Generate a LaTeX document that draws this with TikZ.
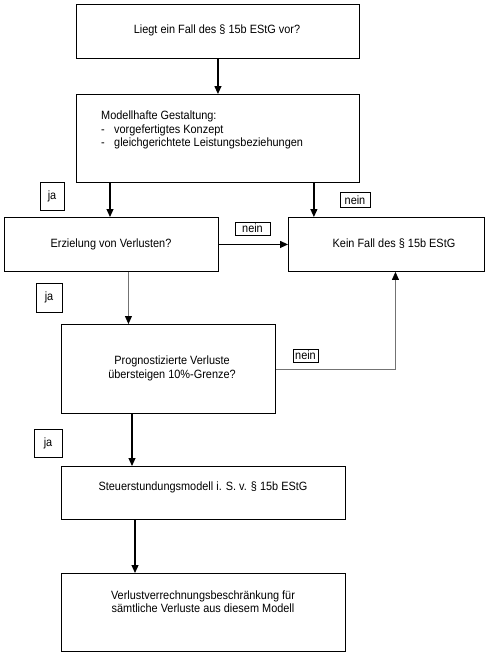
\documentclass[tikz,border=0pt]{standalone}
\usepackage{fontspec}
\setmainfont{Liberation Sans}[FakeStretch=0.91]
\usetikzlibrary{arrows.meta}
\tikzset{
  box/.style={draw, line width=0.9pt, inner sep=0pt, anchor=north west},
  txt/.style={font=\fontsize{12}{13.5}\selectfont, inner sep=0pt, align=center},
  tag/.style={draw, line width=0.8pt, inner sep=0pt, font=\fontsize{12}{12}\selectfont},
  arr/.style={line width=1.2pt, -{Triangle[length=8pt,width=7pt]}},
  grayarr/.style={line width=0.8pt, draw=black!55, -{Triangle[length=8pt,width=7pt,fill=black,color=black]}}
}
\begin{document}
\begin{tikzpicture}[x=1pt,y=-1pt]
\useasboundingbox (0,0) rectangle (500,656);
% Kaesten
\node[box, minimum width=283pt, minimum height=54pt] at (76,4)   (b1) {};
\node[box, minimum width=283pt, minimum height=88pt] at (76,94)  (b2) {};
\node[box, minimum width=214pt, minimum height=54pt] at (4,217)  (b3) {};
\node[box, minimum width=196pt, minimum height=54pt] at (288,217) (b4) {};
\node[box, minimum width=214pt, minimum height=89pt] at (61,324) (b5) {};
\node[box, minimum width=284pt, minimum height=53pt] at (61,466) (b6) {};
\node[box, minimum width=284pt, minimum height=78pt] at (61,573) (b7) {};
% Texte
\node[txt] at (217,30)    (t1) {Liegt ein Fall des § 15b EStG vor?};
\node[txt, anchor=north west, align=left] at (101,111) (t2)
  {Modellhafte Gestaltung:\\
   \makebox[13pt][l]{-}vorgefertigtes Konzept\\
   \makebox[13pt][l]{-}gleichgerichtete Leistungsbeziehungen};
\node[txt] at (111,244)   (t3) {Erzielung von Verlusten?};
\node[txt] at (394,244)   (t4) {Kein Fall des § 15b EStG};
\node[txt] at (172,368.5) (t5) {Prognostizierte Verluste\\übersteigen 10\%-Grenze?};
\node[txt] at (203,487)   (t6) {Steuerstundungsmodell i. S. v. § 15b EStG};
\node[txt] at (203,601.5) (t7) {Verlustverrechnungsbeschränkung für\\sämtliche Verluste aus diesem Modell};
% ja / nein
\node[tag, minimum width=24pt, minimum height=28pt] at (52,196)    (ja1) {ja};
\node[tag, minimum width=30pt, minimum height=15pt] at (355,200)   (nein1) {nein};
\node[tag, minimum width=35pt, minimum height=13pt] at (252.5,228.5) (nein2) {nein};
\node[tag, minimum width=26pt, minimum height=29pt] at (49,297.5)  (ja2) {ja};
\node[tag, minimum width=25pt, minimum height=13pt] at (305.5,355.5) (nein3) {nein};
\node[tag, minimum width=28pt, minimum height=28pt] at (48,443)    (ja3) {ja};
% Pfeile
\draw[arr] (b1.south) -- (b2.north);
\draw[arr] ([xshift=34pt]b2.south west) -- ([xshift=34pt]b2.south west |- b3.north);
\draw[arr] ([xshift=-46pt]b2.south east) -- ([xshift=-46pt]b2.south east |- b4.north);
\draw[arr] (b3.east) -- (b4.west);
\draw[grayarr] ([xshift=17pt]b3.south) -- ([xshift=17pt]b3.south |- b5.north);
\draw[grayarr] (b5.east) -| ([xshift=9pt]b4.south);
\draw[arr] ([xshift=71pt]b5.south west) -- ([xshift=71pt]b5.south west |- b6.north);
\draw[arr] ([xshift=74pt]b6.south west) -- ([xshift=74pt]b6.south west |- b7.north);
\end{tikzpicture}
\end{document}
